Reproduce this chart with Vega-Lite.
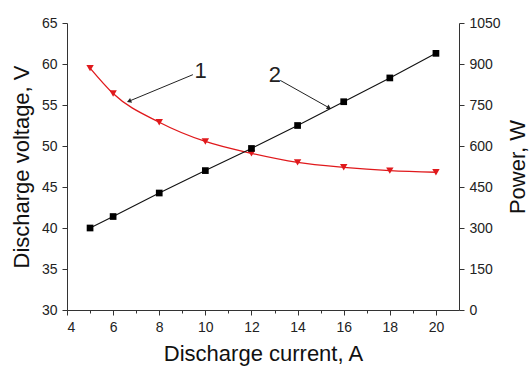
{
  "$schema": "https://vega.github.io/schema/vega-lite/v6.json",
  "width": 392,
  "height": 287,
  "autosize": "none",
  "padding": {"left": 67, "top": 23, "right": 70, "bottom": 57},
  "background": "white",
  "config": {
    "view": {"stroke": null},
    "font": "Liberation Sans",
    "axis": {
      "labelFont": "Liberation Sans",
      "titleFont": "Liberation Sans",
      "labelFontSize": 14,
      "labelColor": "#222",
      "titleFontSize": 22,
      "titleFontWeight": "normal",
      "titleColor": "#111",
      "domainColor": "#333",
      "tickColor": "#333",
      "domainWidth": 1,
      "tickWidth": 1,
      "grid": false
    }
  },
  "datasets": {
    "main": [
      {"current": 5, "voltage": 59.5, "power": 300},
      {"current": 6, "voltage": 56.4, "power": 342},
      {"current": 8, "voltage": 52.9, "power": 428},
      {"current": 10, "voltage": 50.55, "power": 510},
      {"current": 12, "voltage": 49.1, "power": 591},
      {"current": 14, "voltage": 48.0, "power": 675},
      {"current": 16, "voltage": 47.4, "power": 762},
      {"current": 18, "voltage": 47.0, "power": 849},
      {"current": 20, "voltage": 46.8, "power": 939}
    ],
    "notes": [
      {"label": "1", "tx": 9.79, "ty": 59.15, "x1": 9.46, "y1": 58.7, "x2": 6.72, "y2": 55.5},
      {"label": "2", "tx": 13.01, "ty": 58.7, "x1": 13.25, "y1": 58.0, "x2": 15.34, "y2": 54.7}
    ]
  },
  "encoding": {
    "x": {
      "field": "current",
      "type": "quantitative",
      "scale": {"domain": [4, 21], "nice": false, "zero": false},
      "axis": {
        "title": "Discharge current, A",
        "values": [4, 5, 6, 7, 8, 9, 10, 11, 12, 13, 14, 15, 16, 17, 18, 19, 20],
        "labelExpr": "datum.value % 2 === 0 ? datum.label : ''",
        "tickSize": {"condition": {"test": "datum.value % 2 === 0", "value": 5}, "value": 3},
        "labelPadding": 5,
        "titlePadding": 9
      }
    }
  },
  "resolve": {"scale": {"y": "independent"}},
  "layer": [
    {
      "layer": [
        {
          "data": {"name": "main"},
          "mark": {"type": "line", "color": "#e0191c", "strokeWidth": 1.3, "interpolate": "monotone"},
          "encoding": {
            "y": {
              "field": "voltage",
              "type": "quantitative",
              "scale": {"domain": [30, 65], "nice": false, "zero": false},
              "axis": {
                "title": "Discharge voltage, V",
                "orient": "left",
                "values": [30, 32.5, 35, 37.5, 40, 42.5, 45, 47.5, 50, 52.5, 55, 57.5, 60, 62.5, 65],
                "labelExpr": "datum.value % 5 === 0 ? datum.label : ''",
                "tickSize": {"condition": {"test": "datum.value % 5 === 0", "value": 5}, "value": 3},
                "labelPadding": 5,
                "titlePadding": 8
              }
            }
          }
        },
        {
          "data": {"name": "main"},
          "mark": {"type": "point", "shape": "triangle-down", "filled": true, "color": "#e0191c", "size": 55, "opacity": 1},
          "encoding": {"y": {"field": "voltage", "type": "quantitative"}}
        },
        {
          "data": {"name": "notes"},
          "mark": {"type": "rule", "color": "#222", "strokeWidth": 1},
          "encoding": {
            "x": {"field": "x1", "type": "quantitative"},
            "y": {"field": "y1", "type": "quantitative"},
            "x2": {"field": "x2"},
            "y2": {"field": "y2"}
          }
        },
        {
          "data": {"name": "notes"},
          "transform": [{"filter": "datum.label === '1'"}],
          "mark": {"type": "point", "shape": "triangle", "filled": true, "color": "#222", "size": 26, "opacity": 1, "angle": 247.6},
          "encoding": {
            "x": {"field": "x2", "type": "quantitative"},
            "y": {"field": "y2", "type": "quantitative"}
          }
        },
        {
          "data": {"name": "notes"},
          "transform": [{"filter": "datum.label === '2'"}],
          "mark": {"type": "point", "shape": "triangle", "filled": true, "color": "#222", "size": 26, "opacity": 1, "angle": 119.3},
          "encoding": {
            "x": {"field": "x2", "type": "quantitative"},
            "y": {"field": "y2", "type": "quantitative"}
          }
        },
        {
          "data": {"name": "notes"},
          "mark": {"type": "text", "fontSize": 22, "font": "Liberation Sans", "color": "#222", "align": "center", "baseline": "middle"},
          "encoding": {
            "x": {"field": "tx", "type": "quantitative"},
            "y": {"field": "ty", "type": "quantitative"},
            "text": {"field": "label"}
          }
        }
      ]
    },
    {
      "layer": [
        {
          "data": {"name": "main"},
          "mark": {"type": "line", "color": "#111", "strokeWidth": 1.1},
          "encoding": {
            "y": {
              "field": "power",
              "type": "quantitative",
              "scale": {"domain": [0, 1050], "nice": false},
              "axis": {
                "title": "Power, W",
                "orient": "right",
                "titleAngle": 270,
                "titleBaseline": "top",
                "values": [0, 75, 150, 225, 300, 375, 450, 525, 600, 675, 750, 825, 900, 975, 1050],
                "labelExpr": "datum.value % 150 === 0 ? datum.label : ''",
                "tickSize": {"condition": {"test": "datum.value % 150 === 0", "value": 5}, "value": 3},
                "labelPadding": 5,
                "titlePadding": 7,
                "format": "d"
              }
            }
          }
        },
        {
          "data": {"name": "main"},
          "mark": {"type": "point", "shape": "square", "filled": true, "color": "#000", "size": 45, "opacity": 1},
          "encoding": {"y": {"field": "power", "type": "quantitative"}}
        }
      ]
    }
  ]
}
